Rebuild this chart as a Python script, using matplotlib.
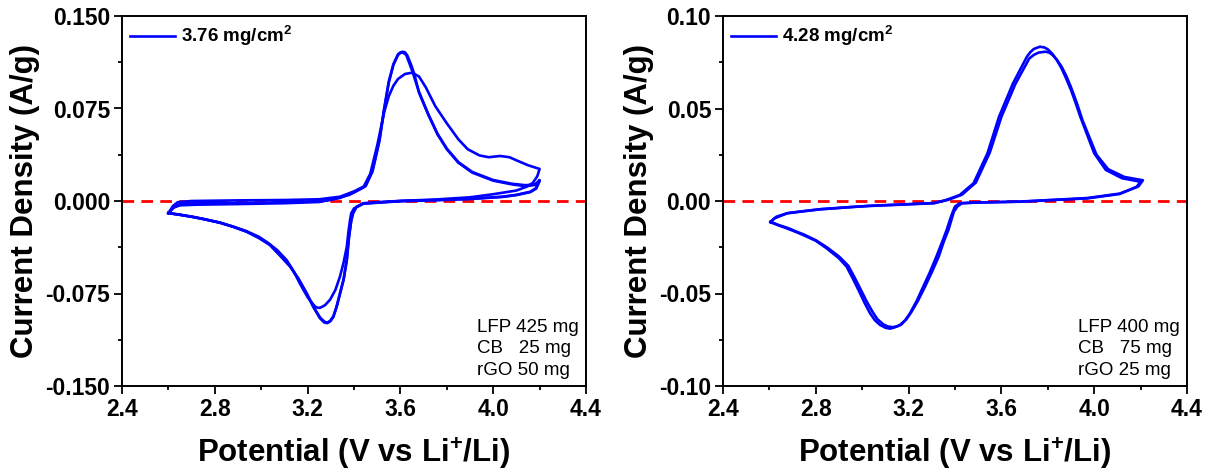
import matplotlib
matplotlib.use("Agg")
import matplotlib.pyplot as plt
from matplotlib.ticker import MultipleLocator, FormatStrFormatter

plt.rcParams['font.family'] = ['Liberation Sans', 'DejaVu Sans']
plt.rcParams['mathtext.fontset'] = 'custom'
plt.rcParams['mathtext.rm'] = 'Liberation Sans'
plt.rcParams['mathtext.bf'] = 'Liberation Sans:bold'
plt.rcParams['axes.unicode_minus'] = False

# ---------------- Left panel data (3.76 mg/cm2) ----------------
# cycle A: anodic peak 0.121, outer cathodic peak
L1_V = [2.60, 2.62, 2.64, 2.70, 2.90, 3.10, 3.25, 3.34, 3.40, 3.45, 3.48, 3.51, 3.53, 3.55, 3.57,
        3.59, 3.60, 3.61, 3.62, 3.63, 3.645, 3.66, 3.68, 3.72, 3.76, 3.80, 3.85, 3.91, 4.00, 4.08,
        4.14, 4.18, 4.20,
        4.185, 4.16, 4.10, 4.04, 3.90, 3.75, 3.60, 3.50, 3.44, 3.41, 3.396, 3.388, 3.378, 3.369,
        3.355, 3.34, 3.325, 3.311, 3.298, 3.285, 3.272, 3.253, 3.225, 3.196, 3.16, 3.124, 3.08,
        3.038, 2.99, 2.937, 2.88, 2.822, 2.76, 2.707, 2.65, 2.60]
L1_I = [-0.0098, -0.0040, -0.0010, 0.0000, 0.0005, 0.0008, 0.0014, 0.0035, 0.0078, 0.0125, 0.0250,
        0.0500, 0.0750, 0.0970, 0.1110, 0.1190, 0.1205, 0.1210, 0.1205, 0.1180, 0.1110, 0.1030,
        0.0880, 0.0700, 0.0540, 0.0420, 0.0310, 0.0230, 0.0165, 0.0135, 0.0120, 0.0130, 0.0170,
        0.0105, 0.0075, 0.0050, 0.0035, 0.0018, 0.0008, 0.0000, -0.0012, -0.0020, -0.0050, -0.0100,
        -0.0160, -0.0300, -0.0480, -0.0640, -0.0750, -0.0860, -0.0940, -0.0975, -0.0990, -0.0985,
        -0.0950, -0.0860, -0.0750, -0.0630, -0.0530, -0.0440, -0.0357, -0.0300, -0.0249, -0.0210,
        -0.0176, -0.0150, -0.0130, -0.0112, -0.0098]
# cycle B: anodic peak 0.121, inner cathodic peak
L2_V = [2.60, 2.62, 2.65, 2.72, 2.90, 3.10, 3.25, 3.34, 3.40, 3.45, 3.48, 3.51, 3.53, 3.55, 3.57,
        3.59, 3.60, 3.61, 3.625, 3.65, 3.68, 3.72, 3.76, 3.80, 3.85, 3.91, 4.00, 4.08, 4.14, 4.18,
        4.20,
        4.185, 4.16, 4.10, 4.04, 3.90, 3.75, 3.60, 3.50, 3.44, 3.40, 3.388, 3.383, 3.376, 3.369,
        3.355, 3.34, 3.32, 3.297, 3.275, 3.255, 3.245, 3.235, 3.225, 3.20, 3.167, 3.14, 3.11,
        3.07, 3.03, 2.99, 2.937, 2.88, 2.822, 2.76, 2.707, 2.65, 2.60]
L2_I = [-0.0098, -0.0055, -0.0035, -0.0030, -0.0025, -0.0018, -0.0008, 0.0025, 0.0070, 0.0120,
        0.0240, 0.0490, 0.0740, 0.0960, 0.1105, 0.1185, 0.1200, 0.1205, 0.1185, 0.1060, 0.0885,
        0.0705, 0.0545, 0.0425, 0.0315, 0.0235, 0.0170, 0.0140, 0.0128, 0.0135, 0.0160,
        0.0100, 0.0072, 0.0048, 0.0033, 0.0016, 0.0006, -0.0002, -0.0014, -0.0022, -0.0060, -0.0100,
        -0.0154, -0.0250, -0.0370, -0.0500, -0.0610, -0.0720, -0.0800, -0.0845, -0.0865, -0.0866,
        -0.0860, -0.0840, -0.0780, -0.0670, -0.0570, -0.0480, -0.0400, -0.0340, -0.0290, -0.0245,
        -0.0208, -0.0176, -0.0150, -0.0130, -0.0112, -0.0098]
# cycle C: anodic peak 0.104 with shoulder at 4.03 V
L3_V = [2.60, 2.63, 2.66, 2.80, 3.00, 3.20, 3.30, 3.38, 3.44, 3.47, 3.50, 3.53, 3.55, 3.57, 3.59,
        3.62, 3.65, 3.68, 3.71, 3.75, 3.80, 3.85, 3.89, 3.94, 3.98, 4.03, 4.07, 4.10, 4.15, 4.20,
        4.19, 4.17, 4.144, 4.10, 4.00, 3.90, 3.75, 3.60, 3.50, 3.44, 3.41, 3.396, 3.388, 3.378,
        3.369, 3.355, 3.34, 3.325, 3.311, 3.298, 3.287, 3.275, 3.255, 3.225, 3.196, 3.16, 3.124,
        3.08, 3.038, 2.99, 2.937, 2.88, 2.822, 2.76, 2.707, 2.65, 2.60]
L3_I = [-0.0098, -0.0040, -0.0020, -0.0018, -0.0014, -0.0005, 0.0010, 0.0050, 0.0110, 0.0220,
        0.0450, 0.0720, 0.0850, 0.0935, 0.0990, 0.1030, 0.1040, 0.1010, 0.0920, 0.0770, 0.0630,
        0.0500, 0.0420, 0.0370, 0.0355, 0.0365, 0.0355, 0.0330, 0.0290, 0.0260,
        0.0200, 0.0145, 0.0116, 0.0085, 0.0055, 0.0030, 0.0012, 0.0001, -0.0010, -0.0018, -0.0048,
        -0.0095, -0.0155, -0.0295, -0.0475, -0.0635, -0.0745, -0.0855, -0.0935, -0.0970, -0.0985,
        -0.0982, -0.0948, -0.0858, -0.0748, -0.0628, -0.0528, -0.0438, -0.0356, -0.0298, -0.0248,
        -0.0209, -0.0175, -0.0149, -0.0129, -0.0111, -0.0098]

# ---------------- Right panel data (4.28 mg/cm2) ----------------
R1_V = [2.605, 2.62, 2.675, 2.75, 2.82, 2.95, 3.03, 3.20, 3.31, 3.36, 3.42, 3.48, 3.54, 3.59, 3.65,
        3.71, 3.725, 3.74, 3.766, 3.785, 3.80, 3.82, 3.84, 3.86, 3.88, 3.90, 3.92, 3.94, 4.00,
        4.05, 4.12, 4.20,
        4.183, 4.11, 3.97, 3.82, 3.68, 3.50, 3.42, 3.40, 3.39, 3.38, 3.364, 3.345, 3.32, 3.29,
        3.263, 3.235, 3.206, 3.185, 3.163, 3.14, 3.12, 3.10, 3.077, 3.055, 3.034, 3.01, 2.991,
        2.96, 2.933, 2.90, 2.847, 2.80, 2.746, 2.71, 2.675, 2.64, 2.605]
R1_I = [-0.0115, -0.0095, -0.0067, -0.0055, -0.0045, -0.0033, -0.0027, -0.0018, -0.0012, 0.0005,
        0.0032, 0.0096, 0.0258, 0.0456, 0.0636, 0.0780, 0.0805, 0.0822, 0.0834, 0.0830, 0.0820,
        0.0795, 0.0760, 0.0715, 0.0660, 0.0600, 0.0530, 0.0456, 0.0258, 0.0168, 0.0123, 0.0104,
        0.0077, 0.0038, 0.0014, 0.0005, -0.0004, -0.0008, -0.0012, -0.0030, -0.0060, -0.0095,
        -0.0157, -0.0220, -0.0300, -0.0390, -0.0463, -0.0540, -0.0607, -0.0645, -0.0670, -0.0683,
        -0.0690, -0.0685, -0.0670, -0.0645, -0.0607, -0.0550, -0.0499, -0.0420, -0.0355, -0.0310,
        -0.0256, -0.0215, -0.0184, -0.0165, -0.0148, -0.0132, -0.0115]
R2_V = [2.605, 2.63, 2.68, 2.82, 3.03, 3.31, 3.37, 3.43, 3.49, 3.55, 3.60, 3.66, 3.72, 3.74, 3.76,
        3.788, 3.805, 3.82, 3.84, 3.86, 3.88, 3.90, 3.925, 3.95, 4.01, 4.06, 4.13, 4.21,
        4.19, 4.11, 3.97, 3.82, 3.68, 3.50, 3.43, 3.41, 3.395, 3.372, 3.35, 3.33, 3.30, 3.27,
        3.24, 3.212, 3.19, 3.168, 3.15, 3.13, 3.11, 3.09, 3.065, 3.045, 3.02, 3.0, 2.97, 2.94,
        2.90, 2.85, 2.80, 2.75, 2.71, 2.68, 2.64, 2.605]
R2_I = [-0.0112, -0.0085, -0.0065, -0.0044, -0.0026, -0.0011, 0.0006, 0.0034, 0.0100, 0.0262,
        0.0455, 0.0632, 0.0770, 0.0790, 0.0802, 0.0807, 0.0803, 0.0790, 0.0762, 0.0725, 0.0675,
        0.0615, 0.0530, 0.0435, 0.0250, 0.0172, 0.0130, 0.0112,
        0.0078, 0.0040, 0.0016, 0.0006, -0.0003, -0.0008, -0.0012, -0.0030, -0.0058, -0.0155,
        -0.0225, -0.0300, -0.0385, -0.0465, -0.0540, -0.0600, -0.0640, -0.0668, -0.0678, -0.0682,
        -0.0678, -0.0666, -0.0638, -0.0600, -0.0545, -0.0495, -0.0420, -0.0350, -0.0300, -0.0252,
        -0.0212, -0.0182, -0.0162, -0.0146, -0.0130, -0.0112]

xticks = [2.4, 2.8, 3.2, 3.6, 4.0, 4.4]
left_yticks = [-0.150, -0.075, 0.000, 0.075, 0.150]
right_yticks = [-0.10, -0.05, 0.00, 0.05, 0.10]
left_label = r"3.76 mg/cm$^\mathbf{2}$"
right_label = r"4.28 mg/cm$^\mathbf{2}$"
left_note = ["LFP 425 mg", "CB   25 mg", "rGO 50 mg"]
right_note = ["LFP 400 mg", "CB   75 mg", "rGO 25 mg"]

BLUE = '#0000FF'
RED = '#FF0000'

fig = plt.figure(figsize=(12.12, 4.74), dpi=100)
axL = fig.add_axes([122/1212, 88/474, 464/1212, 370/474])
axR = fig.add_axes([723/1212, 88/474, 464/1212, 370/474])


def style(ax, yticks, fmt, ymin_step):
    ax.set_xlim(2.4, 4.4)
    ax.set_ylim(yticks[0], yticks[-1])
    ax.set_xticks(xticks)
    ax.set_yticks(yticks)
    ax.xaxis.set_minor_locator(MultipleLocator(0.2))
    ax.yaxis.set_minor_locator(MultipleLocator(ymin_step))
    ax.yaxis.set_major_formatter(FormatStrFormatter(fmt))
    ax.xaxis.set_major_formatter(FormatStrFormatter('%.1f'))
    ax.tick_params(which='both', direction='out', top=False, right=False, width=1.3)
    ax.tick_params(which='major', length=5.5, labelsize=16.5, pad=3)
    ax.tick_params(which='minor', length=3)
    for lab in ax.get_xticklabels() + ax.get_yticklabels():
        lab.set_fontweight('bold')
    for s in ax.spines.values():
        s.set_linewidth(1.4)
    ax.set_xlabel(r"Potential (V vs Li$^\mathbf{+}$/Li)", fontsize=22.5, fontweight='bold', labelpad=11)
    ax.set_ylabel("Current Density (A/g)", fontsize=22.5, fontweight='bold', labelpad=4)


def draw(ax, series, label, note):
    ax.axhline(0, color=RED, lw=2.0, ls=(0, (4.2, 2.6)), zorder=1)
    first = True
    for V, I in series:
        ax.plot(V, I, color=BLUE, lw=1.9, solid_joinstyle='round', zorder=2,
                label=label if first else None)
        first = False
    ax.legend(loc='upper left', bbox_to_anchor=(0.0, 1.0), frameon=False,
              handlelength=2.45, handletextpad=0.3, borderaxespad=0.2, borderpad=0.2,
              prop={'weight': 'bold', 'size': 13.5})
    ys = [0.146, 0.089, 0.030]
    for t, y in zip(note, ys):
        ax.text(0.765, y, t, transform=ax.transAxes, fontsize=13.5, va='baseline', ha='left')


draw(axL, [(L1_V, L1_I), (L2_V, L2_I), (L3_V, L3_I)], left_label, left_note)
style(axL, left_yticks, '%.3f', 0.0375)
draw(axR, [(R1_V, R1_I), (R2_V, R2_I)], right_label, right_note)
style(axR, right_yticks, '%.2f', 0.025)

fig.savefig("out.png", dpi=100)
